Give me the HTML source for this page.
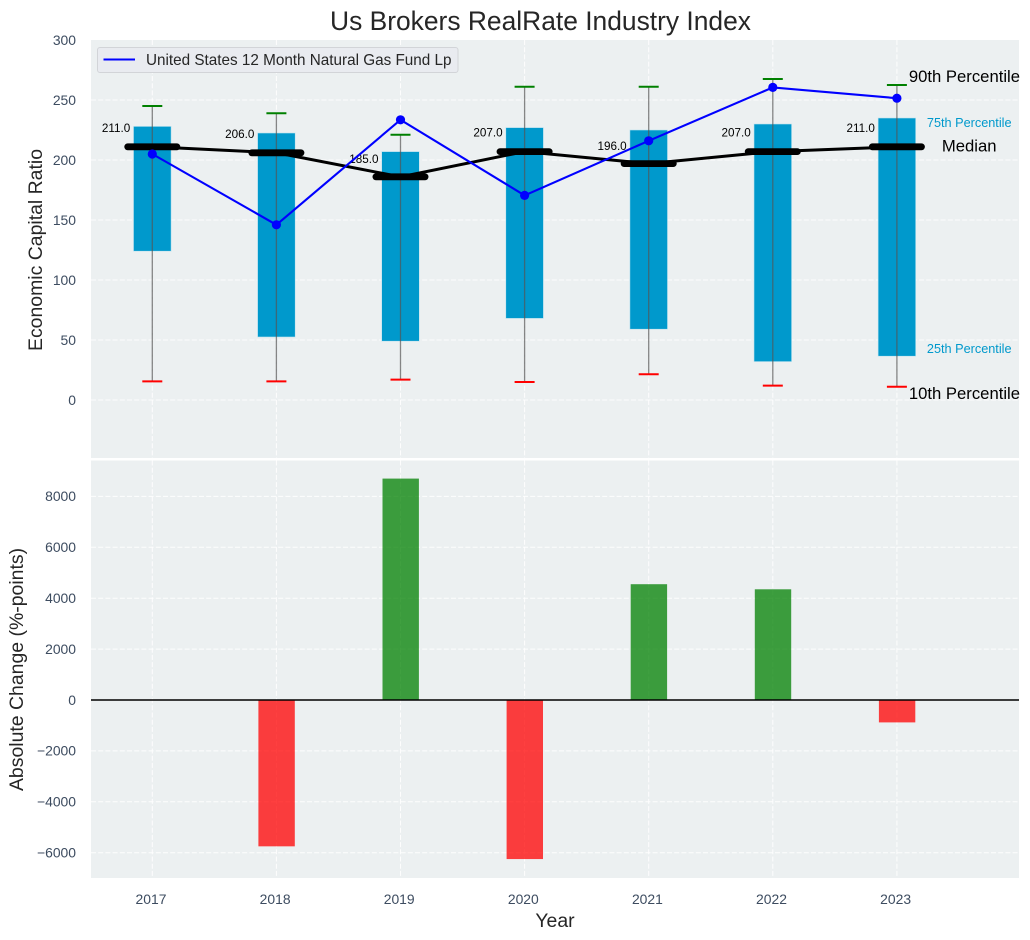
<!DOCTYPE html>
<html lang="en">
<head>
<meta charset="utf-8">
<title>Us Brokers RealRate Industry Index</title>
<style>
html,body{margin:0;padding:0;background:#fff;}
svg{display:block;font-family:"Liberation Sans",Arial,sans-serif;}
</style>
</head>
<body>
<svg id="chart" width="1030" height="940" viewBox="0 0 1030 940" xmlns="http://www.w3.org/2000/svg"></svg>
<script>
const years = [2017, 2018, 2019, 2020, 2021, 2022, 2023];
const p90 = [245, 239, 221, 261, 261, 267.5, 262.5];
const p75 = [228, 222.5, 207, 227, 225, 230, 235];
const medians = [211, 206, 186, 207, 197, 207, 211];
const medianLabels = ['211.0', '206.0', '185.0', '207.0', '196.0', '207.0', '211.0'];
const p25 = [124, 52.5, 49, 68, 59, 32, 36.5];
const p10 = [15.5, 15.5, 17, 15, 21.5, 12, 11];
const fundValues = [205, 146, 233.5, 170.5, 216, 260.5, 251.5];
const changes = [0, -5750, 8700, -6250, 4550, 4350, -880];
const topTicks = [0, 50, 100, 150, 200, 250, 300];
const bottomTicks = [-6000, -4000, -2000, 0, 2000, 4000, 6000, 8000];

const svg = document.getElementById('chart');
const NS = 'http://www.w3.org/2000/svg';
const L = 91, R = 1019, T1 = 40, B1 = 458, T2 = 460.5, B2 = 878;
const xOf = i => 152.3 + 124.1 * i;
const yTop = v => 400 - 1.2 * v;
const yBot = v => 700 - 0.02545 * v;
const INK = '#3d4c60';

function mk(tag, attrs, text) {
  const el = document.createElementNS(NS, tag);
  for (const k in attrs) el.setAttribute(k, attrs[k]);
  if (text !== undefined) el.textContent = text;
  svg.appendChild(el);
  return el;
}
function fmt(v) { return v < 0 ? '\u2212' + Math.abs(v) : String(v); }

let el;
el = mk('text', {x: 540.5, y: 30, 'font-size': 26.4, fill: '#262626', 'text-anchor': 'middle'}, 'Us Brokers RealRate Industry Index');



el = mk('rect', {x: L, y: T1, width: R - L, height: B1 - T1, fill: '#ecf0f1'});


el = mk('rect', {x: L, y: T2, width: R - L, height: B2 - T2, fill: '#ecf0f1'});



const DASH = '5 2.2';
topTicks.forEach(t => {
  const y = yTop(t);
  if (t < 300) {
    el = mk('line', {x1: L, x2: R, y1: y, y2: y, stroke: '#fff', 'stroke-width': 1, 'stroke-dasharray': DASH, opacity: 0.9});
    
    
  }
  el = mk('text', {x: 76, y: y + 4.8, 'font-size': 13.9, fill: INK, 'text-anchor': 'end'}, fmt(t));
  
  
});
bottomTicks.forEach(t => {
  const y = yBot(t);
  el = mk('line', {x1: L, x2: R, y1: y, y2: y, stroke: '#fff', 'stroke-width': 1, 'stroke-dasharray': DASH, opacity: 0.9});
  
  
  el = mk('text', {x: 76, y: y + 4.8, 'font-size': 13.9, fill: INK, 'text-anchor': 'end'}, fmt(t));
  
  
});
years.forEach((yr, i) => {
  const x = xOf(i);
  el = mk('line', {x1: x, x2: x, y1: T1, y2: B1, stroke: '#fff', 'stroke-width': 1, 'stroke-dasharray': DASH, opacity: 0.9});
  
  
  el = mk('line', {x1: x, x2: x, y1: T2, y2: B2, stroke: '#fff', 'stroke-width': 1, 'stroke-dasharray': DASH, opacity: 0.9});
  
  
  el = mk('text', {x: x - 1.3, y: 904, 'font-size': 13.9, fill: INK, 'text-anchor': 'middle'}, String(yr));
  
  
});

years.forEach((yr, i) => {
  const x = xOf(i);
  el = mk('rect', {x: x - 18.8, y: yTop(p75[i]), width: 37.6, height: yTop(p25[i]) - yTop(p75[i]), fill: '#0099cc', stroke: '#bfe3ef', 'stroke-width': 0.6});
  
  
  el = mk('line', {x1: x, x2: x, y1: yTop(p90[i]), y2: yTop(p10[i]), stroke: '#555', 'stroke-width': 1.3, opacity: 0.7});
  
  
  el = mk('line', {x1: x - 10, x2: x + 10, y1: yTop(p90[i]), y2: yTop(p90[i]), stroke: 'green', 'stroke-width': 2});
  
  
  el = mk('line', {x1: x - 10, x2: x + 10, y1: yTop(p10[i]), y2: yTop(p10[i]), stroke: 'red', 'stroke-width': 2});
  
  
});

el = mk('polyline', {points: years.map((_, i) => xOf(i) + ',' + yTop(medians[i])).join(' '), fill: 'none', stroke: '#000', 'stroke-width': 3});



years.forEach((yr, i) => {
  const x = xOf(i), y = yTop(medians[i]);
  el = mk('line', {x1: x - 24.6, x2: x + 24.6, y1: y, y2: y, stroke: '#000', 'stroke-width': 6.8, 'stroke-linecap': 'round'});
  
  
  el = mk('text', {x: x - 22, y: yTop(parseFloat(medianLabels[i])) - 15, 'font-size': 11.7, fill: '#000', 'text-anchor': 'end'}, medianLabels[i]);
  
  
});

el = mk('polyline', {points: years.map((_, i) => xOf(i) + ',' + yTop(fundValues[i])).join(' '), fill: 'none', stroke: '#0000ff', 'stroke-width': 2.1});


years.forEach((yr, i) => {
  el = mk('circle', {cx: xOf(i), cy: yTop(fundValues[i]), r: 4.6, fill: '#0000ff'});
  
  
});

const last = years.length - 1;
const lx = xOf(last);
el = mk('text', {x: lx + 12, y: yTop(p90[last]) - 3, 'font-size': 16.67, fill: '#000'}, '90th Percentile');


el = mk('text', {x: lx + 30, y: yTop(p75[last]) + 9, 'font-size': 12.7, fill: '#0099cc'}, '75th Percentile');


el = mk('text', {x: lx + 45, y: yTop(medians[last]) + 4.5, 'font-size': 16.67, fill: '#000'}, 'Median');


el = mk('text', {x: lx + 30, y: yTop(p25[last]) - 3, 'font-size': 12.7, fill: '#0099cc'}, '25th Percentile');


el = mk('text', {x: lx + 12, y: yTop(p10[last]) + 12, 'font-size': 16.67, fill: '#000'}, '10th Percentile');



el = mk('rect', {x: 97.5, y: 47.5, width: 360.5, height: 25, rx: 2.5, fill: '#e9ebf0', stroke: '#d2d4d8', 'stroke-width': 1});


el = mk('line', {x1: 103.5, x2: 135, y1: 59.5, y2: 59.5, stroke: '#0000ff', 'stroke-width': 2.1});


el = mk('text', {x: 146, y: 65, 'font-size': 15.28, fill: '#262626'}, 'United States 12 Month Natural Gas Fund Lp');



years.forEach((yr, i) => {
  const v = changes[i];
  if (v === 0) return;
  const y0 = yBot(Math.max(v, 0)), y1 = yBot(Math.min(v, 0));
  el = mk('rect', {x: xOf(i) - 18, y: y0, width: 36.4, height: y1 - y0, fill: v > 0 ? 'green' : 'red', 'fill-opacity': 0.75});
  
  
});
el = mk('line', {x1: L, x2: R, y1: yBot(0), y2: yBot(0), stroke: '#000', 'stroke-width': 1.4});



el = mk('text', {transform: 'translate(42 250) rotate(-90)', 'font-size': 19.44, fill: '#262626', 'text-anchor': 'middle'}, 'Economic Capital Ratio');


el = mk('text', {transform: 'translate(23 669.5) rotate(-90)', 'font-size': 19.44, fill: '#262626', 'text-anchor': 'middle'}, 'Absolute Change (%-points)');


el = mk('text', {x: 555, y: 927, 'font-size': 19.44, fill: '#262626', 'text-anchor': 'middle'}, 'Year');


</script>
</body>
</html>
